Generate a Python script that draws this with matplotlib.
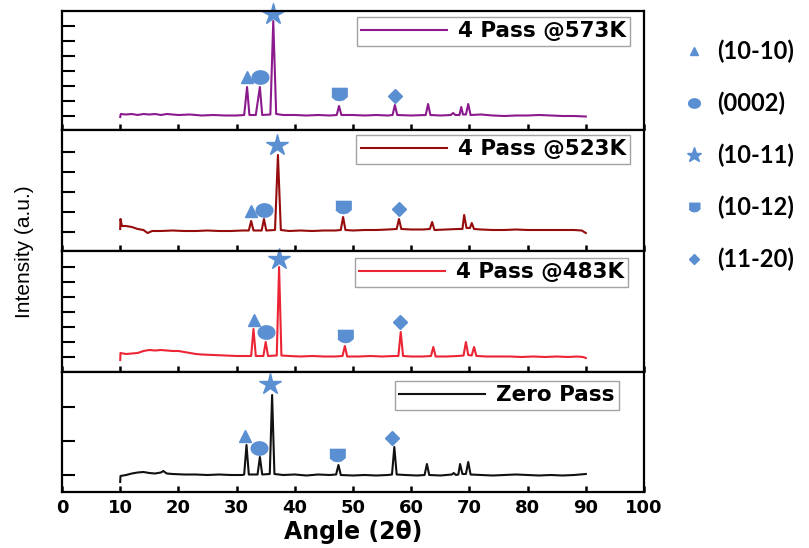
import numpy as np
import matplotlib
matplotlib.use('Agg')
import matplotlib.pyplot as plt
from matplotlib.lines import Line2D

# XRD patterns, intensity in arbitrary units (one panel per sample)
angle_573 = [10.0, 10.1, 11, 12, 13, 14, 15, 16, 17, 18, 19, 20, 22, 24, 26, 28, 30,
             31.3, 31.8, 32.2, 33.3, 34.0, 34.4, 35.8, 36.3, 36.8, 38, 40, 42, 44, 46,
             47.2, 47.6, 48.0, 50, 52, 54, 56, 56.8, 57.2, 57.6, 60, 62.5, 62.9, 63.3,
             65, 66.8, 67.2, 67.6, 68.3, 68.6, 68.9, 69.4, 69.8, 70.2, 72, 74, 76, 78,
             80, 82, 84, 86, 88, 90]
int_573 = [13, 16, 15.5, 16, 15, 16, 15.5, 16, 15, 16, 15.5, 15, 15.5, 14.5, 15, 14.5, 14.5,
           15, 43, 15, 15, 43, 15, 15.5, 109, 16, 15, 15, 14.5, 15, 14.5,
           15, 24, 15, 15, 14.5, 15, 14.5, 15, 25, 15, 14.5, 15, 26, 15,
           14.5, 15, 17, 15, 15, 23, 15.5, 15.5, 26, 15, 15.5, 14.5, 14, 14.5,
           14.5, 15, 14.5, 14, 14, 13.5]

angle_523 = [10.0, 10.05, 10.3, 11, 12, 13, 14, 14.7, 15.5, 17, 19, 21, 23, 25, 27, 29, 31,
             32.1, 32.5, 32.9, 34.3, 34.7, 35.1, 36.6, 37.1, 37.6, 39, 41, 43, 45, 47,
             47.9, 48.3, 48.7, 50, 52, 54, 56, 57.5, 57.9, 58.3, 60, 62, 63.2, 63.6, 64.0,
             66, 68, 68.8, 69.1, 69.5, 70.1, 70.4, 70.8, 72, 74, 76, 78, 80, 82, 84, 86,
             88, 89.3, 90]
int_523 = [22, 32, 25, 25, 24, 22, 21, 18, 20, 20, 20.5, 20, 20, 20.5, 20, 20, 20.5,
           20.5, 30, 20.5, 20.5, 32, 20.5, 21, 96, 21, 20, 20.5, 20, 20.5, 20.5,
           21, 34, 21, 20.5, 21, 21, 21.5, 22, 32, 22, 21.5, 21.5, 22, 29, 21,
           21.5, 22, 22, 36, 23, 23, 28, 22, 21.5, 21, 21, 21.5, 21, 21, 21, 21,
           21, 20.5, 18]

angle_483 = [10.0, 10.05, 11, 12, 13, 14, 15, 16, 17, 18, 19, 20, 21, 22, 23, 24, 26, 28, 30,
             32.5, 32.9, 33.3, 34.6, 35.0, 35.4, 36.9, 37.3, 37.7, 39, 41, 43, 45, 47,
             48.2, 48.6, 49.0, 51, 53, 55, 57, 57.8, 58.2, 58.6, 60, 62, 63.4, 63.8, 64.2,
             66, 68, 69.0, 69.4, 69.8, 70.4, 70.8, 71.2, 73, 75, 77, 79, 81, 83, 85, 87,
             88.5, 89.5, 90]
int_483 = [12, 19, 18, 18.5, 19, 21, 22, 21.5, 22, 21.5, 21, 21, 20, 19, 18, 17.5, 17, 16.5, 16,
           16, 43, 16, 16, 30, 16, 16.5, 105, 16.5, 16, 15.5, 16, 15.5, 15.5,
           16, 26, 15.5, 15.5, 16, 15.5, 16, 16, 40, 16, 15.5, 15.5, 16, 25, 15.5,
           15.5, 16, 16.5, 30, 17, 16.5, 25, 16, 15.5, 15.5, 15.5, 15, 15.5, 15, 15.5, 15,
           15.5, 15, 14]

angle_zero = [10.0, 10.05, 11, 12, 13, 14, 15, 16, 17, 17.4, 18, 19, 21, 23, 25, 27, 29,
              31.0, 31.3, 31.7, 32.1, 33.6, 34.0, 34.4, 35.7, 36.1, 36.5, 38, 40, 42, 44, 46,
              47.1, 47.5, 47.9, 50, 52, 54, 56, 56.7, 57.1, 57.5, 59, 61, 62.3, 62.7, 63.1,
              65, 67, 67.3, 67.7, 68.1, 68.4, 68.8, 69.4, 69.8, 70.2, 72, 74, 76, 78, 80,
              82, 84, 86, 88, 90]
int_zero = [10, 16, 17, 18.5, 19.5, 20, 19, 18.5, 19.5, 21, 18.5, 18, 17.5, 17.5, 17, 17.5, 17,
            17, 17.5, 47, 17.5, 17.5, 35, 17.5, 18, 97, 18, 17, 17.5, 16.5, 17.5, 17,
            17.5, 27, 17, 16.5, 17, 16.5, 17, 17.5, 45, 17.5, 17, 16.5, 17, 28, 17,
            16.5, 17.5, 19, 17, 17.5, 28, 18, 18, 30, 17.5, 17, 16.5, 17, 17.5, 17,
            16.5, 17, 16.5, 17, 18]

# peak markers: (10-10), (0002), (10-11), (10-12), (11-20)
mark_angle_573 = [31.8, 34.0, 36.3, 47.6, 57.2]
mark_int_573 = [53, 53, 116, 36, 34]
mark_angle_523 = [32.5, 34.7, 37.0, 48.3, 57.9]
mark_int_523 = [40, 41, 106, 44, 42]
mark_angle_483 = [33.0, 35.0, 37.3, 48.6, 58.1]
mark_int_483 = [52, 40, 113, 36, 50]
mark_angle_zero = [31.4, 33.8, 35.7, 47.3, 56.7]
mark_int_zero = [56, 44, 108, 37, 54]

planes = ['(10-10)', '(0002)', '(10-11)', '(10-12)', '(11-20)']
labels = ['4 Pass @573K', '4 Pass @523K', '4 Pass @483K', 'Zero Pass']

blue = '#5a8fd2'
shield = [(-1, 0.8), (1, 0.8), (1, -0.3), (0.5, -0.7), (0, -0.8), (-0.5, -0.7), (-1, -0.3)]
t = np.linspace(0, 2 * np.pi, 40)
oval = list(zip(np.cos(t) * 1.25, np.sin(t)))
marker_styles = [('^', 9), (oval, 12), ('*', 16), (shield, 11), ('D', 7)]

panels = [
    (angle_573, int_573, mark_angle_573, mark_int_573, '#8b1a8d', 119, np.arange(14, 110, 15), (0.976, 0.95)),
    (angle_523, int_523, mark_angle_523, mark_int_523, '#960b0b', 121, np.arange(19, 110, 20), (0.976, 0.959)),
    (angle_483, int_483, mark_angle_483, mark_int_483, '#ec2535', 121, np.arange(15, 110, 15), (0.973, 0.942)),
    (angle_zero, int_zero, mark_angle_zero, mark_int_zero, '#111111', 120, np.arange(17, 100, 34), (0.957, 0.925)),
]

fig = plt.figure(figsize=(8.09, 5.48), dpi=100)
gs = fig.add_gridspec(4, 1, left=62 / 809, right=644 / 809, top=1 - 11 / 548,
                      bottom=1 - 492 / 548, hspace=0, height_ratios=[119, 121, 121, 120])

for i, (x, y, mx, my, col, ymax, yt, anchor) in enumerate(panels):
    ax = fig.add_subplot(gs[i])
    ax.plot(x, y, color=col, lw=1.5, label=labels[i])
    for j, (m, ms) in enumerate(marker_styles):
        ax.plot(mx[j], my[j], marker=m, ms=ms, color=blue, mec=blue, ls='none', clip_on=False)
    ax.set_xlim(0, 100)
    ax.set_ylim(0, ymax)
    ax.set_xticks(np.arange(0, 101, 10))
    ax.set_yticks(yt)
    ax.tick_params(axis='y', direction='in', length=9, width=1.5, labelleft=False)
    ax.tick_params(axis='x', direction='in', length=4.5, width=1.8, labelbottom=(i == 3),
                   labelsize=13, pad=5)
    for s in ax.spines.values():
        s.set_linewidth(1.6)
    leg = ax.legend(loc='upper right', bbox_to_anchor=anchor, borderaxespad=0,
                    fancybox=False, handlelength=4.0, handletextpad=0.5, borderpad=0.2,
                    prop={'family': 'DejaVu Sans', 'weight': 'bold', 'size': 15.5})
    leg.get_frame().set_edgecolor('#8c8c8c')
    leg.get_frame().set_linewidth(1.0)
    if i == 3:
        for lab in ax.get_xticklabels():
            lab.set_fontweight('bold')
        ax.set_xlabel('Angle (2θ)', fontsize=17, fontweight='bold', labelpad=2)

fig.text(25 / 809, 1 - 252 / 548, 'Intensity (a.u.)', rotation=90, ha='center', va='center',
         family='Liberation Sans', fontsize=15)

handles = [Line2D([], [], marker=m, ms=ms * 0.7, color=blue, ls='none') for m, ms in marker_styles]
fig.legend(handles, planes, loc='upper left', bbox_to_anchor=(682 / 809, 1 - 40 / 548),
           frameon=False, labelspacing=1.2, handlelength=1.0, handletextpad=0.5,
           borderaxespad=0, borderpad=0,
           prop={'family': 'Lato', 'weight': 'bold', 'size': 17})

fig.savefig('out.png', dpi=100)
